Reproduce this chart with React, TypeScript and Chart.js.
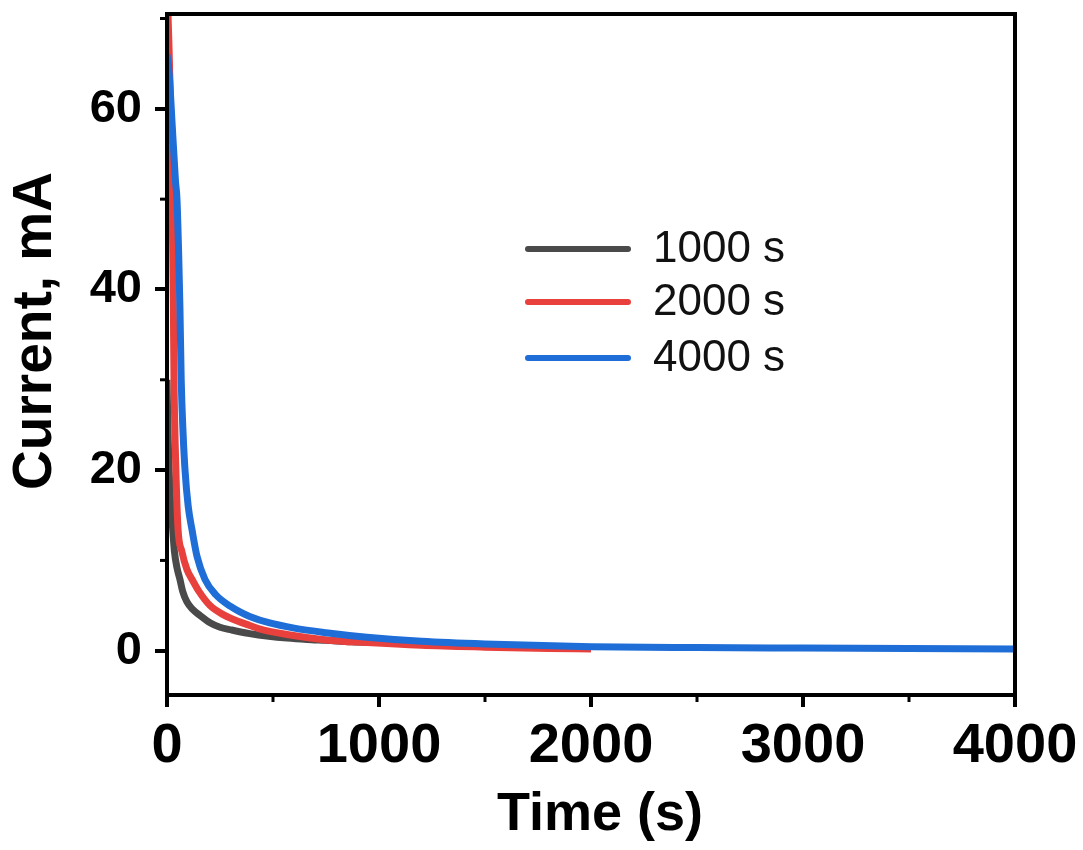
import React, { useEffect, useRef } from "react";
import { Chart, registerables } from "chart.js";

Chart.register(...registerables);

const FONT = "'Liberation Sans', Arial, Helvetica, sans-serif";

// Series: 1000 s
const T_1000 = [0, 5, 10, 18, 25, 35, 47, 61, 75, 94, 120, 156, 203, 250, 305, 390, 480, 566, 660, 750, 870, 1000];
const I_1000 = [30, 24, 20, 16, 14, 11, 9.2, 7.9, 6.5, 5.4, 4.6, 3.9, 3.1, 2.6, 2.3, 1.9, 1.6, 1.4, 1.25, 1.15, 1.0, 0.9];

// Series: 2000 s
const T_2000 = [0, 8, 15, 20, 25, 30, 33, 42, 52, 70, 94, 123, 150, 203, 265, 300, 390, 440, 566, 750, 943, 1200, 1500, 1800, 2000];
const I_2000 = [74, 68, 62, 56, 48, 38, 30, 20, 13.5, 11, 9, 7.7, 6.6, 5.0, 4.0, 3.6, 2.8, 2.4, 1.8, 1.2, 0.9, 0.6, 0.4, 0.25, 0.2];

// Series: 4000 s
const T_4000 = [0, 10, 25, 40, 47, 55, 61, 67, 76, 85, 100, 118, 141, 179, 230, 300, 344, 390, 480, 600, 750, 943, 1200, 1500, 2000, 2500, 3000, 3500, 4000];
const I_4000 = [66, 64, 58, 52, 50, 44, 38, 30, 24, 20, 16, 13.4, 10.5, 7.9, 6.2, 4.9, 4.3, 3.8, 3.1, 2.5, 2.0, 1.5, 1.05, 0.75, 0.45, 0.35, 0.3, 0.25, 0.2];

const SERIES_LABELS = ["1000 s", "2000 s", "4000 s"];
const SERIES_COLORS = ["#4a4a4a", "#e8403c", "#1f6dd6"];

const X_TICKS = [0, 500, 1000, 1500, 2000, 2500, 3000, 3500, 4000];
const X_MAJOR = [0, 1000, 2000, 3000, 4000];
const Y_TICKS = [0, 10, 20, 30, 40, 50, 60, 70];
const Y_MAJOR = [0, 20, 40, 60];

const X_TITLE = "Time (s)";
const Y_TITLE = "Current, mA";

function pts(t: number[], v: number[]) {
  return t.map((x, i) => ({ x, y: v[i] }));
}

const framePlugin = {
  id: "frame",
  afterDraw(chart: any) {
    const { ctx, chartArea } = chart;
    const { left, right, top, bottom } = chartArea;
    const xs = chart.scales.x;
    const ys = chart.scales.y;
    ctx.save();
    // minor ticks
    ctx.strokeStyle = "#000";
    ctx.lineWidth = 3;
    X_TICKS.filter((v) => !X_MAJOR.includes(v)).forEach((v) => {
      const px = xs.getPixelForValue(v);
      ctx.beginPath();
      ctx.moveTo(px, bottom);
      ctx.lineTo(px, bottom + 7);
      ctx.stroke();
    });
    Y_TICKS.filter((v) => !Y_MAJOR.includes(v)).forEach((v) => {
      const py = ys.getPixelForValue(v);
      ctx.beginPath();
      ctx.moveTo(left, py);
      ctx.lineTo(left - 7, py);
      ctx.stroke();
    });
    // frame
    ctx.lineWidth = 4;
    ctx.strokeRect(left, top, right - left, bottom - top);

    // axis titles
    ctx.fillStyle = "#000";
    ctx.font = `bold 54px ${FONT}`;
    ctx.textAlign = "center";
    ctx.textBaseline = "alphabetic";
    ctx.fillText(X_TITLE, 600, 830);

    ctx.save();
    ctx.translate(36, 331);
    ctx.rotate(-Math.PI / 2);
    ctx.font = `bold 55px ${FONT}`;
    ctx.textBaseline = "middle";
    ctx.fillText(Y_TITLE, 0, 0);
    ctx.restore();

    // legend
    const legendY = [249, 302, 358];
    ctx.font = `44px ${FONT}`;
    ctx.textAlign = "left";
    ctx.textBaseline = "middle";
    SERIES_LABELS.forEach((lab, i) => {
      ctx.strokeStyle = SERIES_COLORS[i];
      ctx.lineWidth = 6;
      ctx.lineCap = "round";
      ctx.beginPath();
      ctx.moveTo(528, legendY[i]);
      ctx.lineTo(628, legendY[i]);
      ctx.stroke();
      ctx.fillStyle = "#111";
      ctx.fillText(lab, 653, legendY[i] + 1);
    });
    ctx.restore();
  },
};

export default function App() {
  const ref = useRef<HTMLCanvasElement | null>(null);
  useEffect(() => {
    if (!ref.current) return;
    const chart = new Chart(ref.current, {
      type: "line",
      data: {
        datasets: [
          { label: SERIES_LABELS[0], data: pts(T_1000, I_1000), borderColor: SERIES_COLORS[0], order: 3 },
          { label: SERIES_LABELS[1], data: pts(T_2000, I_2000), borderColor: SERIES_COLORS[1], order: 2 },
          { label: SERIES_LABELS[2], data: pts(T_4000, I_4000), borderColor: SERIES_COLORS[2], order: 1 },
        ].map((d) => ({
          ...d,
          borderWidth: 7,
          pointRadius: 0,
          fill: false,
          cubicInterpolationMode: "monotone" as const,
        })),
      },
      options: {
        animation: false,
        responsive: false,
        devicePixelRatio: 1,
        layout: { padding: { left: 0, top: 14, right: 68, bottom: 0 } },
        plugins: { legend: { display: false }, tooltip: { enabled: false } },
        scales: {
          x: {
            type: "linear",
            min: 0,
            max: 4000,
            afterFit: (s: any) => {
              s.height = 155;
              s.paddingLeft = 0;
              s.paddingRight = 0;
            },
            afterBuildTicks: (s: any) => {
              s.ticks = X_TICKS.map((v) => ({ value: v }));
            },
            border: { display: false },
            grid: {
              drawOnChartArea: false,
              drawTicks: true,
              tickLength: 12,
              tickWidth: 4,
              lineWidth: 4,
              tickColor: (c: any) => (c.tick && X_MAJOR.includes(c.tick.value) ? "#000" : "rgba(0,0,0,0)"),
            },
            ticks: {
              autoSkip: false,
              maxRotation: 0,
              padding: 6,
              color: "#000",
              font: { family: FONT, size: 56, weight: "bold" },
              callback: (v: any) => (X_MAJOR.includes(Number(v)) ? String(v) : ""),
            },
          },
          y: {
            type: "linear",
            min: -4.9,
            max: 70.5,
            afterFit: (s: any) => {
              s.width = 167;
              s.paddingTop = 0;
              s.paddingBottom = 0;
            },
            afterBuildTicks: (s: any) => {
              s.ticks = Y_TICKS.map((v) => ({ value: v }));
            },
            border: { display: false },
            grid: {
              drawOnChartArea: false,
              drawTicks: true,
              tickLength: 12,
              tickWidth: 4,
              lineWidth: 4,
              tickColor: (c: any) => (c.tick && Y_MAJOR.includes(c.tick.value) ? "#000" : "rgba(0,0,0,0)"),
            },
            ticks: {
              autoSkip: false,
              padding: 13,
              color: "#000",
              font: { family: FONT, size: 47, weight: "bold" },
              callback: (v: any) => (Y_MAJOR.includes(Number(v)) ? String(v) : ""),
            },
          },
        },
      },
      plugins: [framePlugin],
    });
    return () => chart.destroy();
  }, []);
  return (
    <div style={{ position: "absolute", left: 0, top: 0, width: 1083, height: 850, background: "#fff" }}>
      <canvas ref={ref} width={1083} height={850} />
    </div>
  );
}
